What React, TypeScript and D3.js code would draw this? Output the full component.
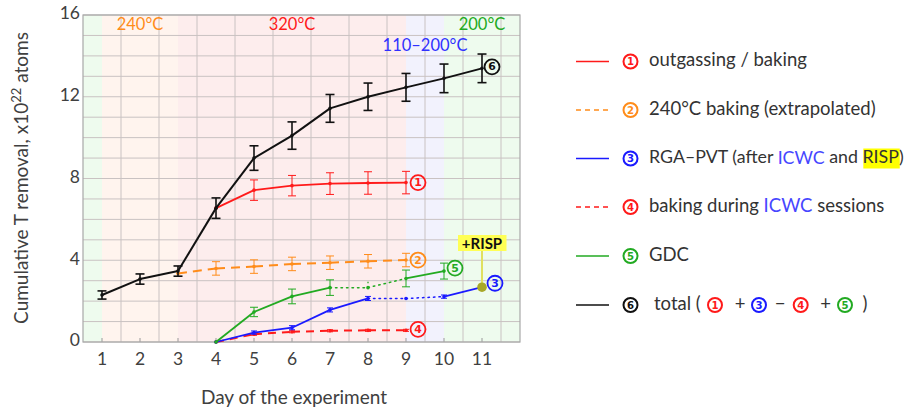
import React from "react";
import * as d3 from "d3";

const W = 912, H = 412;
const M = { left: 83, top: 15, right: 520, bottom: 342 };

const days = [1, 2, 3, 4, 5, 6, 7, 8, 9, 10, 11];
const totalVals = [2.3, 3.08, 3.47, 6.55, 9.0, 10.1, 11.43, 12.0, 12.46, 12.9, 13.39];
const totalErr = [0.2, 0.25, 0.25, 0.5, 0.6, 0.67, 0.68, 0.67, 0.68, 0.7, 0.7];

const outgasDays = [4, 5, 6, 7, 8, 9];
const outgasVals = [6.55, 7.43, 7.65, 7.75, 7.78, 7.8];
const outgasErr = [0, 0.5, 0.5, 0.53, 0.55, 0.55];

const bake240Days = [3, 4, 5, 6, 7, 8, 9];
const bake240Vals = [3.35, 3.6, 3.69, 3.82, 3.88, 3.95, 4.01];
const bake240Err = [0, 0.33, 0.33, 0.33, 0.33, 0.33, 0.33];

const gdcDays = [4, 5, 6, 7, 8, 9, 10];
const gdcVals = [0, 1.47, 2.23, 2.66, 2.66, 3.11, 3.47];
const gdcErr = [0, 0.23, 0.36, 0.38, 0, 0.41, 0.39];
const gdcSeg = ["solid", "solid", "solid", "dotted", "dotted", "solid"];

const rgaDays = [4, 5, 6, 7, 8, 9, 10, 11];
const rgaVals = [0, 0.46, 0.7, 1.57, 2.13, 2.13, 2.22, 2.68];
const rgaErr = [0, 0.08, 0.1, 0.1, 0.1, 0, 0.08, 0];
const rgaSeg = ["solid", "solid", "solid", "solid", "dotted", "dotted", "solid"];

const icwcDays = [4, 5, 6, 7, 8, 9];
const icwcVals = [0, 0.38, 0.5, 0.55, 0.57, 0.57];
const icwcErr = [0, 0.05, 0.05, 0.05, 0.05, 0.05];

const yTicks = [0, 4, 8, 12, 16];
const bands = [
  { from: 0.5, to: 1, color: "#eefbee" },
  { from: 1, to: 3, color: "#fff4ee" },
  { from: 3, to: 9, color: "#fdeded" },
  { from: 9, to: 10, color: "#f2f2fd" },
  { from: 10, to: 12, color: "#eefbee" },
];
const tempLabels = [
  { day: 2, row: 0, text: "240°C", color: "#ff8c1a" },
  { day: 6, row: 0, text: "320°C", color: "#ff1a1a" },
  { day: 9.5, row: 1, text: "110–200°C", color: "#3030ff" },
  { day: 11, row: 0, text: "200°C", color: "#22aa22" },
];

const RED = "#ff1a1a", ORANGE = "#ff8c1a", BLUE = "#1a1aff", GREEN = "#22aa22", BLACK = "#111111";
const ICWC_BLUE = "#4646ff";
const FONT = "Lato, 'Open Sans', sans-serif";

const x = d3.scaleLinear().domain([0.5, 12]).range([M.left, M.right]);
const y = d3.scaleLinear().domain([0, 16]).range([M.bottom, M.top]);

let _ctx: CanvasRenderingContext2D | null = null;
function tw(text: string, font: string) {
  if (!_ctx) _ctx = document.createElement("canvas").getContext("2d");
  if (!_ctx) return text.length * 8;
  _ctx.font = font;
  return _ctx.measureText(text).width;
}

function Circ({ cx, cy, n, color, r = 7.5, sw = 1.8 }: any) {
  return (
    <g>
      <circle cx={cx} cy={cy} r={r} fill="none" stroke={color} strokeWidth={sw} />
      <text x={cx} y={cy + 0.5} textAnchor="middle" dominantBaseline="middle" fontFamily="'DejaVu Sans', sans-serif" fontWeight="bold" fontSize={r * 1.45} fill={color}>{n}</text>
    </g>
  );
}

function Series({ ds, vs, es, color, width = 1.6, dash, segStyles, cap = 4, errW = 1, dots = true }: any) {
  const segs: any[] = [];
  for (let i = 0; i < ds.length - 1; i++) {
    const style = segStyles ? segStyles[i] : "solid";
    const line = d3.line<number>().x((_, k) => x(ds[i + k])).y((_, k) => y(vs[i + k]));
    segs.push(
      <path key={"s" + i} d={line([0, 1]) || ""} fill="none" stroke={color}
        strokeWidth={style === "dotted" ? 1.5 : width}
        strokeDasharray={style === "dotted" ? "1.5,4" : dash}
        strokeLinecap={style === "dotted" ? "round" : "butt"} />
    );
  }
  return (
    <g>
      {segs}
      {ds.map((d: number, i: number) => {
        const e = es ? es[i] : 0;
        if (!e) return null;
        const cx = x(d), y1 = y(vs[i] + e), y2 = y(vs[i] - e);
        return (
          <g key={"e" + i} stroke={color} strokeWidth={errW}>
            <line x1={cx} x2={cx} y1={y1} y2={y2} />
            <line x1={cx - cap} x2={cx + cap} y1={y1} y2={y1} />
            <line x1={cx - cap} x2={cx + cap} y1={y2} y2={y2} />
          </g>
        );
      })}
      {dots && ds.map((d: number, i: number) => (
        <circle key={"d" + i} cx={x(d)} cy={y(vs[i])} r={1.8} fill={color} />
      ))}
    </g>
  );
}

export default function App() {
  const gridY = d3.range(0, 17, 1);
  const gridX = d3.range(1.5, 12, 1);
  const LS = 18.5;
  const LS3 = 17.8;
  const legendFont3 = `${LS3}px ${FONT}`;
  const rowY = [61.5, 110, 158.5, 207, 256, 305];
  const legX0 = 576, legX1 = 609, circX = 630.5, txtX = 649;

  const r3a = "RGA–PVT (after ";
  const r3b = "ICWC";
  const r3c = " and ";
  const r3d = "RISP";
  const r3aW = tw(r3a, legendFont3), r3bW = tw(r3b, legendFont3), r3cW = tw(r3c, legendFont3), r3dW = tw(r3d, legendFont3);
  const rispX = txtX + r3aW + r3bW + r3cW;

  const risp = { day: 11, val: rgaVals[rgaVals.length - 1] };

  return (
    <svg width={W} height={H} style={{ position: "absolute", left: 0, top: 0, background: "#fff" }} fontFamily={FONT}>
      {bands.map((b, i) => (
        <rect key={i} x={x(b.from)} y={M.top} width={x(b.to) - x(b.from)} height={M.bottom - M.top} fill={b.color} />
      ))}
      {gridY.map((v) => (
        <line key={"gy" + v} x1={M.left} x2={M.right} y1={y(v)} y2={y(v)} stroke="#c9c2c2" strokeWidth={1} />
      ))}
      {gridX.map((v) => (
        <line key={"gx" + v} x1={x(v)} x2={x(v)} y1={M.top} y2={M.bottom} stroke="#c9c2c2" strokeWidth={1} />
      ))}
      {days.map((d) => (
        <line key={"t" + d} x1={x(d)} x2={x(d)} y1={M.bottom} y2={M.bottom - 4} stroke="#999" strokeWidth={1} />
      ))}
      <rect x={M.left} y={M.top} width={M.right - M.left} height={M.bottom - M.top} fill="none" stroke="#a8a8a8" strokeWidth={1.2} />

      {tempLabels.map((t, i) => (
        <text key={i} x={x(t.day)} y={t.row === 0 ? 30 : 50.5} textAnchor="middle" fontSize={16.5} fill={t.color}>{t.text}</text>
      ))}

      {yTicks.map((v) => (
        <text key={"yl" + v} x={80} y={y(v)} textAnchor="end" dominantBaseline="middle" fontSize={17.5} fill="#404040">{v}</text>
      ))}
      {days.map((d) => (
        <text key={"xl" + d} x={x(d)} y={365} textAnchor="middle" fontSize={17.5} fill="#404040">{d}</text>
      ))}
      <text x={294} y={404} textAnchor="middle" fontSize={19} fill="#404040">Day of the experiment</text>
      <text transform="translate(28,178) rotate(-90)" textAnchor="middle" fontSize={19} fill="#404040">
        Cumulative T removal, x10<tspan dy={-7} fontSize={13}>22</tspan><tspan dy={7}> atoms</tspan>
      </text>

      <Series ds={bake240Days} vs={bake240Vals} es={bake240Err} color={ORANGE} width={2} dash="9,6" />
      <Series ds={icwcDays} vs={icwcVals} es={icwcErr} color={RED} width={2} dash="8,6" cap={3} />
      <Series ds={rgaDays.slice(0, -1)} vs={rgaVals.slice(0, -1)} es={rgaErr} color={BLUE} width={1.8} segStyles={rgaSeg} cap={3} />
      <path d={`M${x(rgaDays[6])},${y(rgaVals[6])}L${x(rgaDays[7])},${y(rgaVals[7])}`} stroke={BLUE} strokeWidth={1.8} />
      <Series ds={gdcDays} vs={gdcVals} es={gdcErr} color={GREEN} width={1.8} segStyles={gdcSeg} />
      <line x1={x(8)} x2={x(8)} y1={y(gdcVals[4])} y2={y(gdcVals[4] + 0.4)} stroke={GREEN} strokeWidth={1.3} strokeDasharray="1.5,3" />
      <Series ds={outgasDays} vs={outgasVals} es={outgasErr} color={RED} width={1.8} />
      <Series ds={days} vs={totalVals} es={totalErr} color={BLACK} width={2} errW={1.6} cap={4.5} />

      {/* RISP annotation */}
      <line x1={x(risp.day)} x2={x(risp.day)} y1={251} y2={y(risp.val)} stroke="#e0e060" strokeWidth={2} />
      <rect x={458} y={235} width={48.5} height={16} fill="#ffff55" />
      <text x={482} y={248.5} textAnchor="middle" fontSize={15} fontWeight="bold" fill="#111">+RISP</text>
      <circle cx={x(risp.day)} cy={y(risp.val)} r={4.8} fill="#a8a828" />

      <Circ cx={x(9) + 12} cy={y(outgasVals[5])} n="1" color={RED} />
      <Circ cx={x(9) + 12} cy={y(bake240Vals[6])} n="2" color={ORANGE} />
      <Circ cx={x(11) + 13} cy={y(rgaVals[7]) - 4} n="3" color={BLUE} />
      <Circ cx={x(9) + 12} cy={y(icwcVals[5]) - 1} n="4" color={RED} />
      <Circ cx={x(10) + 11} cy={y(gdcVals[6]) - 3} n="5" color={GREEN} />
      <Circ cx={x(11) + 10} cy={y(totalVals[10]) - 1.5} n="6" color={BLACK} />

      {/* Legend */}
      <g fontSize={LS} fill="#333">
        <line x1={legX0} x2={legX1} y1={rowY[0]} y2={rowY[0]} stroke={RED} strokeWidth={1.5} />
        <Circ cx={circX} cy={rowY[0]} n="1" color={RED} r={7} sw={2} />
        <text x={txtX} y={rowY[0]} dominantBaseline="middle">outgassing / baking</text>

        <line x1={legX0} x2={legX1} y1={rowY[1]} y2={rowY[1]} stroke={ORANGE} strokeWidth={1.5} strokeDasharray="5,4" />
        <Circ cx={circX} cy={rowY[1]} n="2" color={ORANGE} r={7} sw={2} />
        <text x={txtX} y={rowY[1]} dominantBaseline="middle">240°C baking (extrapolated)</text>

        <line x1={legX0} x2={legX1} y1={rowY[2]} y2={rowY[2]} stroke={BLUE} strokeWidth={1.5} />
        <Circ cx={circX} cy={rowY[2]} n="3" color={BLUE} r={7} sw={2} />
        <rect x={rispX} y={rowY[2] - 10} width={r3dW} height={20} fill="#ffff00" />
        <text x={txtX} y={rowY[2]} dominantBaseline="middle" fontSize={LS3}>
          {r3a}<tspan fill={ICWC_BLUE}>{r3b}</tspan>{r3c}{r3d})
        </text>

        <line x1={legX0} x2={legX1} y1={rowY[3]} y2={rowY[3]} stroke={RED} strokeWidth={1.5} strokeDasharray="5,4" />
        <Circ cx={circX} cy={rowY[3]} n="4" color={RED} r={7} sw={2} />
        <text x={txtX} y={rowY[3]} dominantBaseline="middle">
          baking during <tspan fill={ICWC_BLUE}>ICWC</tspan> sessions
        </text>

        <line x1={legX0} x2={legX1} y1={rowY[4]} y2={rowY[4]} stroke={GREEN} strokeWidth={1.5} />
        <Circ cx={circX} cy={rowY[4]} n="5" color={GREEN} r={7} sw={2} />
        <text x={txtX} y={rowY[4]} dominantBaseline="middle">GDC</text>

        <line x1={legX0} x2={legX1} y1={rowY[5]} y2={rowY[5]} stroke={BLACK} strokeWidth={1.5} />
        <Circ cx={circX} cy={rowY[5]} n="6" color={BLACK} r={7} sw={2} />
        <text x={654} y={rowY[5]} dominantBaseline="middle">total (</text>
        <Circ cx={715} cy={rowY[5]} n="1" color={RED} r={7} sw={2} />
        <text x={740} y={rowY[5]} textAnchor="middle" dominantBaseline="middle">+</text>
        <Circ cx={759} cy={rowY[5]} n="3" color={BLUE} r={7} sw={2} />
        <text x={780} y={rowY[5]} textAnchor="middle" dominantBaseline="middle">−</text>
        <Circ cx={800.7} cy={rowY[5]} n="4" color={RED} r={7} sw={2} />
        <text x={825.7} y={rowY[5]} textAnchor="middle" dominantBaseline="middle">+</text>
        <Circ cx={845} cy={rowY[5]} n="5" color={GREEN} r={7} sw={2} />
        <text x={865} y={rowY[5]} textAnchor="middle" dominantBaseline="middle">)</text>
      </g>
    </svg>
  );
}
